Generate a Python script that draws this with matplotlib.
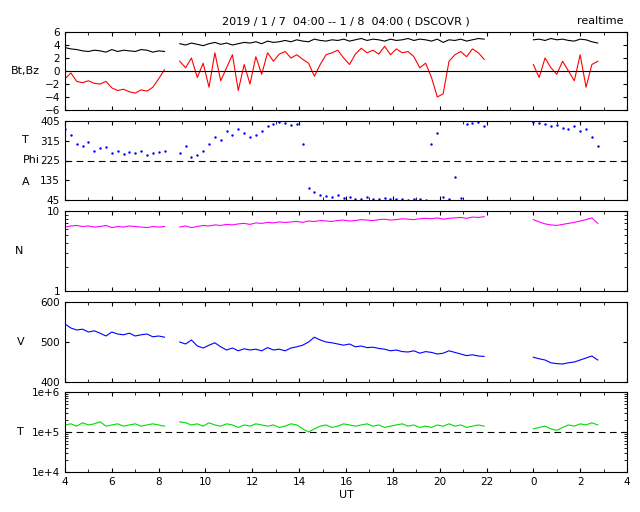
import numpy as np
import matplotlib
matplotlib.use("Agg")
import matplotlib.pyplot as plt

seg_starts = [4.0, 8.9, 24.0]
bt = [[3.6,3.4,3.3,3.1,3.0,3.2,3.1,2.9,3.3,3.0,3.2,3.1,3.0,3.3,3.2,2.9,3.1,3.0],
      [4.2,4.0,4.3,4.1,3.9,4.2,4.4,4.1,4.3,4.0,4.2,4.4,4.3,4.5,4.2,4.6,4.4,4.5,4.7,4.5,4.8,4.6,4.5,4.9,4.7,4.6,4.8,4.7,4.9,4.6,4.8,5.0,4.7,4.9,4.8,4.6,4.9,4.7,4.8,5.0,4.7,4.9,4.8,4.6,4.9,4.4,4.8,4.7,4.9,4.6,4.8,5.0,4.9],
      [4.8,4.9,4.7,5.0,4.8,4.9,4.7,4.6,4.9,4.8,4.5,4.3]]
bz = [[-1.2,-0.3,-1.6,-1.8,-1.5,-1.9,-2.0,-1.6,-2.6,-3.0,-2.8,-3.2,-3.4,-2.9,-3.1,-2.5,-1.2,0.2],
      [1.5,0.5,2.0,-1.0,1.2,-2.5,2.8,-1.5,0.5,2.5,-3.0,1.0,-2.0,2.2,-0.5,2.8,1.5,2.6,3.0,2.0,2.5,1.8,1.2,-0.8,1.0,2.5,2.8,3.2,2.0,1.0,2.6,3.5,2.8,3.2,2.6,3.8,2.5,3.4,2.8,3.0,2.2,0.5,1.2,-1.0,-4.0,-3.5,1.5,2.5,3.0,2.2,3.4,2.8,1.8],
      [1.0,-1.0,2.0,0.5,-0.5,1.5,0.0,-1.5,2.5,-2.5,1.0,1.5]]
phi = [[370,340,300,290,310,270,280,285,260,270,255,265,260,270,250,260,265,270],
       [260,290,240,250,270,300,330,320,360,340,370,350,330,340,360,380,390,400,395,385,390,300,100,80,70,65,60,70,55,60,50,48,60,50,48,52,50,48,50,47,50,48,46,300,350,60,48,150,55,390,395,400,380],
       [400,395,390,380,385,375,370,380,360,370,330,290]]
dens = [[6.3,6.5,6.6,6.4,6.5,6.3,6.4,6.6,6.2,6.4,6.3,6.5,6.4,6.3,6.2,6.4,6.3,6.4],
        [6.3,6.5,6.2,6.4,6.6,6.5,6.7,6.6,6.8,6.7,6.9,7.0,6.8,7.1,7.0,7.2,7.1,7.3,7.2,7.3,7.4,7.2,7.5,7.4,7.6,7.5,7.4,7.6,7.7,7.5,7.6,7.8,7.7,7.6,7.8,7.9,7.7,7.8,8.0,7.9,7.8,8.0,8.1,8.0,8.2,7.9,8.1,8.2,8.3,8.1,8.4,8.3,8.5],
        [7.8,7.3,6.9,6.7,6.6,6.8,7.0,7.2,7.5,7.8,8.2,7.0]]
vel = [[545,535,530,532,525,528,522,515,525,520,518,522,515,518,520,513,515,512],
       [500,495,505,490,485,492,498,488,480,485,478,483,480,482,478,486,480,482,478,485,488,492,500,512,505,500,498,495,492,495,488,490,486,487,484,482,478,480,476,475,478,472,476,474,470,472,478,474,470,466,468,465,464],
       [462,458,455,448,446,445,448,450,455,460,465,455]]
temp = [[1.5,1.6,1.4,1.7,1.5,1.6,1.8,1.4,1.5,1.6,1.4,1.5,1.6,1.4,1.5,1.6,1.5,1.4],
        [1.8,1.7,1.5,1.6,1.4,1.7,1.5,1.4,1.6,1.5,1.3,1.5,1.4,1.6,1.5,1.4,1.5,1.3,1.4,1.6,1.5,1.2,1.0,1.2,1.4,1.5,1.3,1.4,1.6,1.5,1.4,1.5,1.6,1.4,1.5,1.3,1.4,1.5,1.6,1.4,1.5,1.3,1.4,1.3,1.5,1.4,1.6,1.4,1.5,1.3,1.4,1.5,1.4],
        [1.2,1.3,1.4,1.2,1.1,1.3,1.5,1.4,1.6,1.5,1.7,1.5]]
xticks = [4,6,8,10,12,14,16,18,20,22,24,26,28]
xticklabels = ["4","6","8","10","12","14","16","18","20","22","0","2","4"]

times = [s + 0.25*np.arange(len(b)) for s, b in zip(seg_starts, bt)]

fig = plt.figure(figsize=(6.4,5.12), dpi=100)
L, W = 65/640, 562/640
def mk(top, bot):
    ax = fig.add_axes([L, 1-bot/512, W, (bot-top)/512])
    ax.set_xlim(4,28)
    ax.set_xticks(xticks)
    ax.set_xticks(np.arange(4,28.1,1), minor=True)
    ax.tick_params(direction='in', top=True, right=True, labelsize=7.5, which='both', length=3)
    ax.tick_params(which='minor', length=2)
    ax.tick_params(axis='x', labelbottom=False)
    return ax

a1 = mk(32,110); a2 = mk(121,200); a3 = mk(211,291); a4 = mk(302,382); a5 = mk(392,472)
for t,b,z in zip(times,bt,bz):
    a1.plot(t,b,color='black',lw=0.8)
    a1.plot(t,z,color='red',lw=0.8)
a1.axhline(0,color='black',lw=0.8)
a1.set_ylim(-6,6); a1.set_yticks([-6,-4,-2,0,2,4,6])
a1.set_ylabel("Bt,Bz", rotation=0, fontsize=8, labelpad=14, va='center')

for t,p in zip(times,phi):
    a2.plot(t,p,'.',color='blue',ms=1.5)
a2.axhline(225,color='black',lw=0.8,ls=(0,(6,4)))
a2.set_ylim(45,405); a2.set_yticks([45,135,225,315,405])
fig.text(0.035,1-143/512,"T",fontsize=8); fig.text(0.035,1-163/512,"Phi",fontsize=8); fig.text(0.035,1-185/512,"A",fontsize=8)

for t,n in zip(times,dens):
    a3.plot(t,n,color='magenta',lw=0.8)
a3.set_yscale('log'); a3.set_ylim(1,10); a3.set_yticks([1,10]); a3.set_yticklabels(["1","10"])
a3.yaxis.set_minor_formatter(matplotlib.ticker.NullFormatter())
a3.set_ylabel("N", rotation=0, fontsize=8, labelpad=20, va='center')

for t,v in zip(times,vel):
    a4.plot(t,v,color='blue',lw=0.8)
a4.set_ylim(400,600); a4.set_yticks([400,500,600])
a4.set_ylabel("V", rotation=0, fontsize=8, labelpad=14, va='center')

for t,T in zip(times,temp):
    a5.plot(t,np.array(T)*1e5,color='#00dd00',lw=0.8)
a5.axhline(1e5,color='black',lw=0.8,ls=(0,(6,4)))
a5.set_yscale('log'); a5.set_ylim(1e4,1e6); a5.set_yticks([1e4,1e5,1e6]); a5.set_yticklabels(["1e+4","1e+5","1e+6"])
a5.yaxis.set_minor_formatter(matplotlib.ticker.NullFormatter())
a5.set_ylabel("T", rotation=0, fontsize=8, labelpad=8, va='center')
a5.tick_params(axis='x', labelbottom=True)
a5.set_xticklabels(xticklabels)
a5.set_xlabel("UT", fontsize=8, labelpad=2)

fig.text(0.54,1-24/512,"2019 / 1 / 7  04:00 -- 1 / 8  04:00 ( DSCOVR )",fontsize=8,ha='center')
fig.text(0.975,1-24/512,"realtime",fontsize=8,ha='right')
fig.savefig("out.png", dpi=100)
